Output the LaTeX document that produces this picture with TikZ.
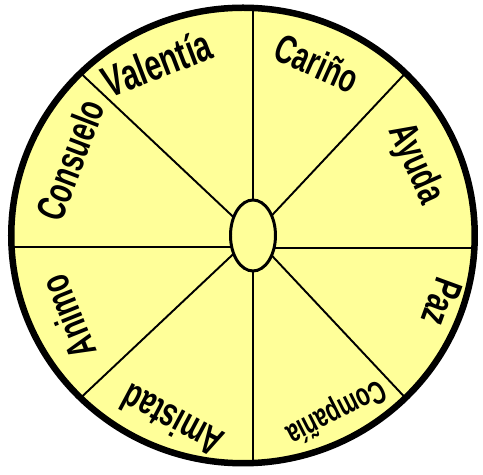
\documentclass[tikz,border=0pt]{standalone}
\usepackage{fontspec}
\usepackage{tikz}
\usetikzlibrary{shapes.geometric}
\newfontfamily\wordfamily[FakeStretch=0.68]{Liberation Sans}
\definecolor{paleyellow}{RGB}{255,255,153}

\begin{document}
\begin{tikzpicture}[
  rim/.style={ellipse, draw=black, fill=paleyellow, line width=3.7pt,
    inner sep=0pt, outer sep=0pt,
    minimum width=9.27cm, minimum height=9.11cm},
  hubbox/.style={ellipse, draw=black, fill=paleyellow, line width=1.7pt,
    inner sep=0pt, outer sep=0pt,
    minimum width=0.9cm, minimum height=1.42cm},
  spoke/.style={line width=1.1pt, black},
  word/.style={inner sep=0pt, anchor=center,
    font=\wordfamily\bfseries\fontsize{23pt}{23pt}\selectfont}
]
\useasboundingbox (-4.86,-4.79) rectangle (4.80,4.71);
\node[rim] (wheel) at (0,0) {};
\node[hubbox] (hub) at (0.2,0) {};
% spokes
\draw[spoke] (hub.north) -- (hub.north |- wheel.north);
\draw[spoke] (hub.south) -- (hub.south |- wheel.south);
\draw[spoke] (hub.209.5) -- (hub.209.5 -| wheel.west);
\draw[spoke] (hub.330.5) -- (hub.330.5 -| wheel.east);
\foreach \a in {45,135,225,315}
  \draw[spoke] (hub) -- (wheel.\a);
% words round the rim
\node[word, rotate=21, font=\wordfamily\bfseries\fontsize{25pt}{25pt}\selectfont]
  (valentia) at (-1.72,3.45) {Valentía};
\node[word, rotate=-24]  (carino)   at (1.48,3.45)   {Cariño};
\node[word, rotate=-66]  (ayuda)    at (3.44,1.43)   {Ayuda};
\node[word, rotate=-110] (paz)      at (3.98,-1.33)  {Paz};
\node[word, rotate=207, font=\wordfamily\bfseries\fontsize{18.5pt}{18.5pt}\selectfont]
  (compania) at (1.86,-3.51) {Compañía};
\node[word, rotate=152]  (amistad)  at (-1.42,-3.71) {Amistad};
\node[word, rotate=112]  (animo)    at (-3.50,-1.63) {Animo};
\node[word, rotate=69]   (consuelo) at (-3.46,1.51)  {Consuelo};
\end{tikzpicture}
\end{document}
